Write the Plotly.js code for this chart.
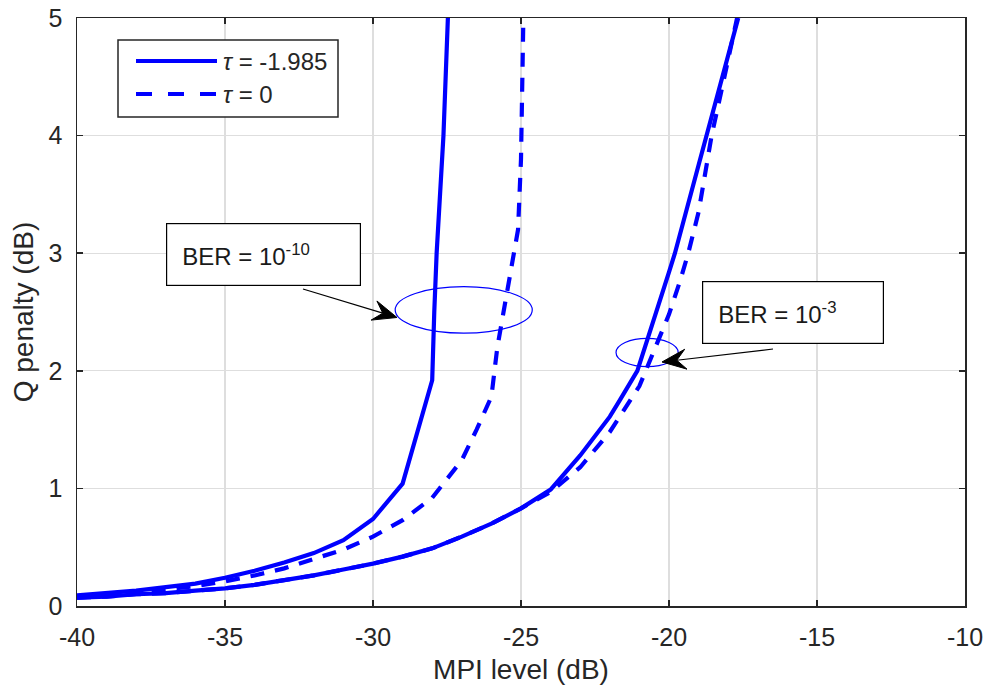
<!DOCTYPE html>
<html>
<head>
<meta charset="utf-8">
<script src="https://cdn.plot.ly/plotly-3.0.1.min.js"></script>
<style>html,body{margin:0;padding:0;background:#fff;}#chart{width:987px;height:693px;}</style>
</head>
<body>
<div id="chart"></div>
<script>
// ---- data ----
// tau = -1.985, BER = 1e-10 (solid)
var mpiA = [-40,-39,-38,-37,-36,-35,-34,-33,-32,-31,-30,-29,-28,-27.93,-27.85,-27.62,-27.47];
var qA   = [0.09,0.11,0.13,0.16,0.19,0.24,0.30,0.37,0.45,0.56,0.74,1.04,1.92,2.5,3.0,4.0,5.0];
// tau = 0, BER = 1e-10 (dashed)
var mpiB = [-40,-39,-38,-37,-36,-35,-34,-33,-32,-31,-30,-29,-28,-27,-26.5,-26,-25.8,-25.6,-25.3,-25.1,-25.0,-24.92];
var qB   = [0.07,0.09,0.11,0.14,0.17,0.21,0.26,0.32,0.40,0.48,0.59,0.73,0.92,1.24,1.50,1.78,2.2,2.5,2.9,3.2,3.8,5.0];
// tau = -1.985, BER = 1e-3 (solid)
var mpiC = [-40,-39,-38,-37,-36,-35,-34,-33,-32,-31,-30,-29,-28,-27,-26,-25,-24,-23,-22,-21.66,-21.07,-20,-19.8,-19,-18.73,-18,-17.66];
var qC   = [0.07,0.08,0.10,0.11,0.13,0.15,0.18,0.22,0.26,0.31,0.36,0.42,0.49,0.59,0.70,0.83,0.99,1.28,1.61,1.75,2.0,2.84,3.0,3.75,4.0,4.68,5.0];
// tau = 0, BER = 1e-3 (dashed)
var mpiD = [-40,-39,-38,-37,-36,-35,-34,-33,-32,-31,-30,-29,-28,-27,-26,-25,-24,-23,-22,-21,-20.78,-20.36,-20,-19.63,-19.35,-19,-18.56,-18.17,-17.7];
var qD   = [0.07,0.08,0.10,0.11,0.13,0.15,0.18,0.22,0.26,0.31,0.36,0.42,0.49,0.59,0.70,0.83,0.97,1.18,1.48,1.87,2.0,2.26,2.48,2.76,3.0,3.35,4.0,4.45,5.0];

var seriesNames = ['<i>τ</i> = -1.985', '<i>τ</i> = 0'];
var xTickVals = [-40,-35,-30,-25,-20,-15,-10];
var xTickText = ['-40','-35','-30','-25','-20','-15','-10'];
var yTickVals = [0,1,2,3,4,5];
var yTickText = ['0','1','2','3','4','5'];
var annoTexts = ['BER = 10<sup>-10</sup>', 'BER = 10<sup>-3</sup>'];

// ---- styling ----
var FONT = 'Liberation Sans, Arial, Helvetica, sans-serif';
var BLUE = '#0000ff';
var LW = 4.2;
var AXC = '#262626';

function tr(x, y, dash) {
  return {x: x, y: y, type: 'scatter', mode: 'lines', showlegend: false,
          line: {color: BLUE, width: LW, dash: dash}, hoverinfo: 'x+y'};
}
var data = [
  tr(mpiA, qA, 'solid'),
  tr(mpiB, qB, '14px,11px'),
  tr(mpiC, qC, 'solid'),
  tr(mpiD, qD, '14px,11px')
];

// plot area in pixels: left 77, right 965, top 18, bottom 606
function px(p) { return (p - 77) / 888; }
function py(p) { return (606 - p) / 588; }

// arrow (line + swept-back head) built in pixel space, placed in paper coords
function arrowShapes(tx, ty, hx, hy) {
  var dx = hx - tx, dy = hy - ty, len = Math.sqrt(dx*dx + dy*dy);
  var ux = dx/len, uy = dy/len, nx = -uy, ny = ux;
  var L = 24, W = 10, N = 0.62*L;
  var bl = [hx - L*ux + W*nx, hy - L*uy + W*ny];
  var br = [hx - L*ux - W*nx, hy - L*uy - W*ny];
  var nt = [hx - N*ux, hy - N*uy];
  function P(p) { return px(p[0]).toFixed(5) + ',' + py(p[1]).toFixed(5); }
  return [
    {type: 'line', xref: 'paper', yref: 'paper', x0: px(tx), y0: py(ty), x1: px(nt[0]), y1: py(nt[1]),
     line: {color: '#000', width: 1.2}},
    {type: 'path', xref: 'paper', yref: 'paper',
     path: 'M' + P([hx, hy]) + 'L' + P(bl) + 'L' + P(nt) + 'L' + P(br) + 'Z',
     fillcolor: '#000', line: {color: '#000', width: 1}}
  ];
}

var shapes = [
  // highlight ellipses
  {type: 'circle', xref: 'x', yref: 'y', x0: -29.25, x1: -24.62, y0: 2.32, y1: 2.715,
   line: {color: BLUE, width: 1.2}},
  {type: 'circle', xref: 'x', yref: 'y', x0: -21.79, x1: -19.69, y0: 2.035, y1: 2.276,
   line: {color: BLUE, width: 1.2}},
  // legend box
  {type: 'rect', xref: 'paper', yref: 'paper', x0: px(118), x1: px(338), y0: py(117), y1: py(40),
   line: {color: AXC, width: 1.5}, fillcolor: '#ffffff'},
  // legend samples
  {type: 'line', xref: 'paper', yref: 'paper', x0: px(136), x1: px(217), y0: py(61), y1: py(61),
   line: {color: BLUE, width: LW}},
  {type: 'line', xref: 'paper', yref: 'paper', x0: px(136), x1: px(217), y0: py(94), y1: py(94),
   line: {color: BLUE, width: LW, dash: '16px,16px'}}
].concat(arrowShapes(303, 289, 397, 317.5), arrowShapes(773, 349, 662, 362));

var annotations = [
  {xref: 'paper', yref: 'paper', x: px(221), y: py(61), xanchor: 'left', yanchor: 'middle',
   text: seriesNames[0], showarrow: false, font: {family: FONT, size: 24, color: AXC}},
  {xref: 'paper', yref: 'paper', x: px(221), y: py(94), xanchor: 'left', yanchor: 'middle',
   text: seriesNames[1], showarrow: false, font: {family: FONT, size: 24, color: AXC}},
  // text boxes
  {xref: 'x', yref: 'y', x: -33.71, y: 2.989, xanchor: 'center', yanchor: 'middle',
   text: annoTexts[0], showarrow: false, align: 'left', valign: 'middle',
   width: 163, height: 31, borderpad: 15, bordercolor: '#000', borderwidth: 1.2, bgcolor: '#fff',
   font: {family: FONT, size: 24, color: '#1a1a1a'}},
  {xref: 'x', yref: 'y', x: -15.80, y: 2.496, xanchor: 'center', yanchor: 'middle',
   text: annoTexts[1], showarrow: false, align: 'left', valign: 'middle',
   width: 150, height: 31, borderpad: 15, bordercolor: '#000', borderwidth: 1.2, bgcolor: '#fff',
   font: {family: FONT, size: 24, color: '#1a1a1a'}}
];

var axisCommon = {
  showgrid: true, gridcolor: '#dedede', gridwidth: 1.3, zeroline: false,
  showline: true, linecolor: AXC, linewidth: 1.5, mirror: 'ticks',
  ticks: 'inside', ticklen: 6, tickwidth: 1.5, tickcolor: AXC,
  tickfont: {family: FONT, size: 25, color: AXC}
};

var layout = {
  width: 987, height: 693,
  margin: {l: 77, r: 22, t: 18, b: 87, pad: 0},
  paper_bgcolor: '#fff', plot_bgcolor: '#fff',
  font: {family: FONT, color: AXC},
  showlegend: false,
  xaxis: Object.assign({}, axisCommon, {
    range: [-40, -10], tickmode: 'array', tickvals: xTickVals, ticktext: xTickText,
    ticklabelstandoff: 8,
    title: {text: 'MPI level (dB)', font: {family: FONT, size: 28, color: AXC}, standoff: 10}
  }),
  yaxis: Object.assign({}, axisCommon, {
    range: [0, 5], tickmode: 'array', tickvals: yTickVals, ticktext: yTickText,
    ticklabelstandoff: 8,
    title: {text: 'Q penalty (dB)', font: {family: FONT, size: 28, color: AXC}, standoff: 7}
  }),
  shapes: shapes,
  annotations: annotations
};

Plotly.newPlot('chart', data, layout, {displayModeBar: false, staticPlot: true});
</script>
</body>
</html>
